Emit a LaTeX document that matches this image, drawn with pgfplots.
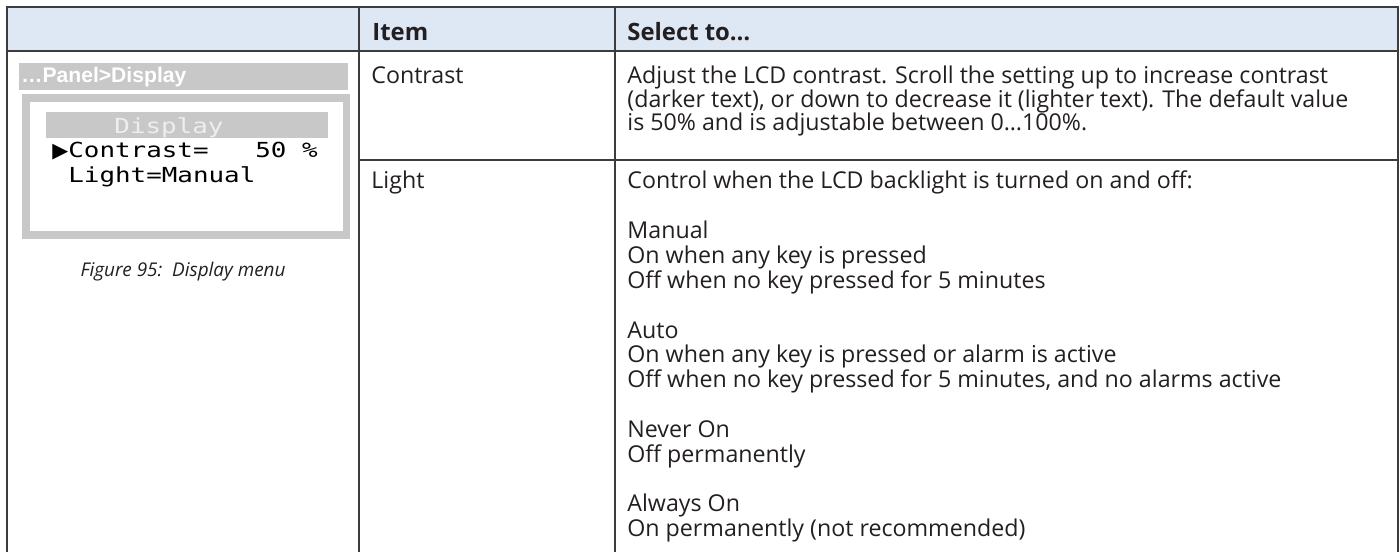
\documentclass[border=0pt]{standalone}
\usepackage{fontspec}
\setmainfont{Open Sans}
\newfontfamily\lcdfont[FakeStretch=1.25]{DejaVu Sans Mono}
\newfontfamily\djs{DejaVu Sans}
\newfontfamily\arialfont{Liberation Sans}
\usepackage{pgfplots}
\pgfplotsset{compat=1.18}
\definecolor{hdr}{RGB}{222,232,245}
\definecolor{txt}{RGB}{35,31,32}
\definecolor{rule}{RGB}{60,60,60}
\definecolor{lcdgray}{RGB}{200,200,200}
\newlength{\tmpw}
\begin{document}
\settowidth{\tmpw}{\fontsize{10}{12}\selectfont Adjust the LCD contrast. Scroll the setting up to increase contrast}%
\pgfmathsetmacro{\bodysize}{0.98*10*357.5/\tmpw}%
\settowidth{\tmpw}{\fontsize{10}{12}\selectfont\bfseries Select to…}%
\pgfmathsetmacro{\boldsize}{10*61.5/\tmpw}%
\settowidth{\tmpw}{\itshape\fontsize{10}{12}\selectfont Figure 95:\ \ Display menu}%
\pgfmathsetmacro{\capsize}{10*102.5/\tmpw}%
\settowidth{\tmpw}{\arialfont\bfseries\fontsize{10}{12}\selectfont …Panel>Display}%
\pgfmathsetmacro{\panelsize}{10*82.5/\tmpw}%
\settowidth{\tmpw}{\lcdfont\fontsize{10}{12}\selectfont Light=Manual}%
\pgfmathsetmacro{\lcdsize}{10*93.5/\tmpw}%
\newcommand{\bodyfont}{\fontsize{\bodysize}{\bodysize}\selectfont}%
\newcommand{\boldfont}{\fontsize{\boldsize}{\boldsize}\selectfont\bfseries}%
\newcommand{\lcdf}{\lcdfont\fontsize{\lcdsize}{\lcdsize}\selectfont}%
\newcommand{\tl}[3]{\node[anchor=base west,inner sep=0pt,font=\bodyfont,text=txt] at (axis cs:#1,#2) {#3};}%
\begin{tikzpicture}
\begin{axis}[
  scale only axis, width=700pt, height=276pt,
  xmin=0, xmax=1400, ymin=0, ymax=552, y dir=reverse,
  hide axis, clip=false]
\path (axis cs:0,0) rectangle (axis cs:1400,552);
% header fill
\fill[hdr] (axis cs:7,7) rectangle (axis cs:1398,51);
% rules
\addplot[draw=rule, line width=0.8pt] coordinates {(7,552) (7,7) (1398,7) (1398,552)};
\addplot[draw=rule, line width=0.8pt] coordinates {(7,51) (1398,51)};
\addplot[draw=rule, line width=0.8pt] coordinates {(359,7) (359,552)};
\addplot[draw=rule, line width=0.8pt] coordinates {(615,7) (615,552)};
\addplot[draw=rule, line width=0.8pt] coordinates {(359,160) (1398,160)};
% header text
\node[anchor=base west,inner sep=0pt,font=\boldfont,text=txt] at (axis cs:372,40) {Item};
\node[anchor=base west,inner sep=0pt,font=\boldfont,text=txt] at (axis cs:627,40) {Select to…};
% item column
\tl{371}{83}{Contrast}
\tl{371}{188}{Light}
% contrast description
\tl{627}{83}{Adjust the LCD contrast. Scroll the setting up to increase contrast}
\tl{627}{107}{(darker text), or down to decrease it (lighter text). The default value}
\tl{627}{130}{is 50\% and is adjustable between 0…100\%.}
% light description
\tl{627}{188}{Control when the LCD backlight is turned on and off:}
\tl{627}{238}{Manual}
\tl{627}{263}{On when any key is pressed}
\tl{627}{288}{Off when no key pressed for 5 minutes}
\tl{627}{338}{Auto}
\tl{627}{362}{On when any key is pressed or alarm is active}
\tl{627}{387}{Off when no key pressed for 5 minutes, and no alarms active}
\tl{627}{437}{Never On}
\tl{627}{462}{Off permanently}
\tl{627}{511}{Always On}
\tl{627}{536}{On permanently (not recommended)}
% LCD figure
\fill[lcdgray] (axis cs:19,63) rectangle (axis cs:348,90);
\node[anchor=base west,inner sep=0pt,font=\arialfont\bfseries\fontsize{\panelsize}{\panelsize}\selectfont,text=white] at (axis cs:21,82) {…Panel>Display};
\fill[lcdgray] (axis cs:22,94) rectangle (axis cs:350,239);
\fill[white] (axis cs:30,102) rectangle (axis cs:343,231);
\fill[lcdgray] (axis cs:46,112) rectangle (axis cs:328,138);
\node[anchor=base,inner sep=0pt,font=\lcdf,text={rgb,255:red,238;green,238;blue,238}] at (axis cs:169,133) {Display};
\node[anchor=base west,inner sep=0pt,font=\djs\fontsize{\lcdsize}{\lcdsize}\selectfont,text=black] at (axis cs:52,157) {▶};
\node[anchor=base west,inner sep=0pt,font=\lcdf,text=black] at (axis cs:68,157) {Contrast=~~~50~\%};
\node[anchor=base west,inner sep=0pt,font=\lcdf,text=black] at (axis cs:68,182) {Light=Manual};
\node[anchor=base,inner sep=0pt,font=\itshape\fontsize{\capsize}{\capsize}\selectfont,text=txt] at (axis cs:183,276) {Figure 95:\ \ Display menu};
\end{axis}
\end{tikzpicture}
\end{document}
